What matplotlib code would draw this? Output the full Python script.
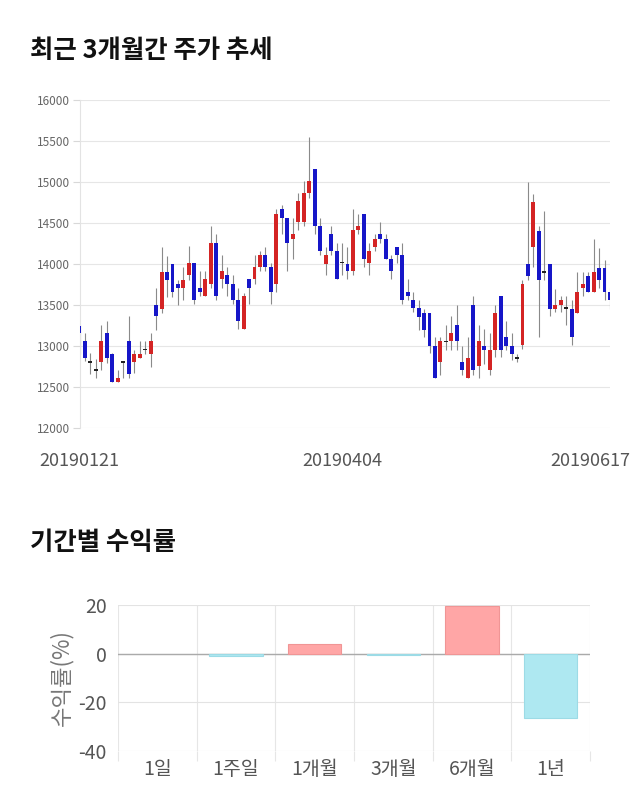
import matplotlib.pyplot as plt
from matplotlib.transforms import ScaledTranslation

plt.rcParams['font.family'] = ['Noto Sans CJK KR', 'DejaVu Sans']
plt.rcParams['axes.unicode_minus'] = False

# 일봉 데이터 (2019-01-21 ~ 2019-06-17)
opens = [13250, 13057, 12805, 12707, 12805, 13158, 12906, 12561, 12805, 13057,
         12805, 12854, 12955, 12906, 13504, 13455, 13906, 14004, 13756, 13707,
         13862, 14016, 13711, 13610, 13760, 14260, 13813, 13862, 13760, 13561,
         13203, 13813, 13813, 13963, 14106, 13963, 13760, 14667, 14565, 14309,
         14512, 14512, 14862, 15163, 14463, 14000, 14362, 14159, 14016, 14000,
         13915, 14410, 14614, 14016, 14207, 14362, 14309, 14065, 14207, 14106,
         13659, 13561, 13459, 13402, 13402, 13004, 12801, 13057, 13057, 13260,
         12801, 12610, 13504, 12752, 13004, 12703, 12955, 13606, 13106, 13004,
         12854, 13008, 14004, 14203, 14407, 13902, 14004, 13451, 13504, 13463,
         13451, 13402, 13707, 13858, 13654, 13955, 13955, 13654]
highs = [13260, 13160, 12915, 12846, 13260, 13309, 12910, 12707, 12810, 13362,
         12955, 13057, 13057, 13158, 13707, 14203, 14100, 14004, 13809, 13960,
         14220, 14016, 13915, 13915, 14463, 14362, 14106, 13963, 13862, 13711,
         13650, 13813, 14106, 14159, 14207, 14016, 14667, 14716, 14565, 14565,
         14870, 15012, 15550, 15163, 14565, 14207, 14463, 14260, 14260, 14207,
         14667, 14614, 14614, 14260, 14362, 14512, 14362, 14106, 14207, 14260,
         13813, 13659, 13565, 13451, 13402, 13106, 13106, 13260, 13362, 13504,
         13004, 13106, 13606, 13260, 13210, 13159, 13504, 13606, 13310, 13159,
         12903, 13810, 15000, 14858, 14460, 14650, 14004, 13700, 13610, 13610,
         13557, 13900, 13900, 13900, 14300, 14200, 14050, 13707]
lows = [12900, 12813, 12663, 12610, 12710, 12793, 12561, 12561, 12610, 12610,
        12670, 12854, 12900, 12750, 13200, 13402, 13600, 13600, 13500, 13560,
        13800, 13510, 13610, 13610, 13711, 13561, 13711, 13610, 13510, 13203,
        13203, 13510, 13760, 13915, 13915, 13510, 13659, 14362, 13915, 14060,
        14410, 14460, 14800, 14362, 14106, 13862, 14106, 13813, 13862, 13813,
        13862, 14362, 13963, 13862, 14159, 14260, 14060, 13813, 14016, 13510,
        13561, 13410, 13200, 13110, 12910, 12610, 12650, 12955, 12955, 12955,
        12650, 12610, 12650, 12610, 12780, 12650, 12860, 12860, 12955, 12830,
        12801, 12960, 13809, 13960, 13106, 13809, 13360, 13410, 13410, 13260,
        13008, 13402, 13610, 13654, 13654, 13707, 13557, 13451]
closes = [13160, 12854, 12805, 12707, 13057, 12854, 12561, 12610, 12805, 12663,
          12906, 12906, 12955, 13057, 13362, 13906, 13809, 13654, 13707, 13809,
          14010, 13561, 13659, 13813, 14260, 13610, 13915, 13760, 13561, 13305,
          13610, 13711, 13963, 14106, 13963, 13659, 14614, 14565, 14260, 14362,
          14768, 14870, 15012, 14463, 14159, 14106, 14159, 13813, 14016, 13915,
          14410, 14463, 14065, 14159, 14309, 14309, 14065, 13915, 14106, 13561,
          13610, 13459, 13358, 13199, 13004, 12610, 13057, 13057, 13159, 13057,
          12703, 12854, 12703, 13057, 12955, 12955, 13402, 12955, 13004, 12902,
          12854, 13756, 13850, 14756, 13809, 13902, 13451, 13504, 13557, 13463,
          13106, 13654, 13756, 13654, 13902, 13809, 13654, 13557]
date_ticks = [0, 48, 97]
date_labels = ['20190121', '20190404', '20190617']

# 기간별 수익률
periods = ['1일', '1주일', '1개월', '3개월', '6개월', '1년']
returns = [0.0, -0.8, 4.0, -0.4, 19.7, -26.4]

UP = '#d42424'
DOWN = '#1616c8'

fig = plt.figure(figsize=(6.4, 8.1), dpi=100)

fig.text(30 / 640, 1 - 50 / 810, '최근 3개월간 주가 추세', fontsize=18.3,
         fontweight='bold', va='center', ha='left', color='#111111')
fig.text(30 / 640, 1 - 543 / 810, '기간별 수익률', fontsize=18.3,
         fontweight='bold', va='center', ha='left', color='#111111')

# ---- 주가 캔들차트 ----
ax = fig.add_axes([79.5 / 640, 1 - 428 / 810, 530.5 / 640, 328 / 810])
xs = list(range(len(opens)))
ax.vlines(xs, lows, highs, color='#8a8a8a', linewidth=0.8, zorder=2)
for i in xs:
    o, c = opens[i], closes[i]
    if c > o:
        col = UP
    elif c < o:
        col = DOWN
    else:
        col = '#222222'
    h = max(abs(c - o), 14)
    b = min(o, c) if abs(c - o) >= 14 else o - 7
    ax.bar(i, h, bottom=b, width=0.72, color=col, linewidth=0, zorder=3)

ax.set_xlim(0, 97)
ax.set_ylim(12000, 16000)
ax.set_yticks(range(12000, 16001, 500))
ax.grid(axis='y', color='#e6e6e6', linewidth=0.8)
ax.set_axisbelow(True)
for s in ['top', 'right', 'bottom']:
    ax.spines[s].set_visible(False)
ax.spines['left'].set_color('#e3e3e3')
ax.tick_params(axis='y', length=5, color='#d8d8d8', labelsize=8.5,
               labelcolor='#666666', pad=2)
ax.set_xticks(date_ticks)
ax.set_xticklabels(date_labels)
ax.tick_params(axis='x', length=0, labelsize=13, labelcolor='#555555', pad=17)
last = ax.get_xticklabels()[-1]
last.set_transform(last.get_transform()
                   + ScaledTranslation(-0.20, 0, fig.dpi_scale_trans))

# ---- 기간별 수익률 막대 ----
ax2 = fig.add_axes([118 / 640, 1 - 751 / 810, 472 / 640, 146 / 810])
colors = ['#ffa6a6' if v > 0 else '#aee8f1' for v in returns]
edges = ['#f09595' if v > 0 else '#9cdbe6' for v in returns]
edges = [e if v != 0 else 'none' for e, v in zip(edges, returns)]
ax2.bar(range(len(periods)), returns, width=0.68, color=colors,
        edgecolor=edges, linewidth=0.8, zorder=3)
ax2.set_xlim(-0.5, len(periods) - 0.5)
ax2.set_ylim(-40, 20)
ax2.set_yticks([-40, -20, 0, 20])
ax2.grid(axis='y', color='#e3e3e3', linewidth=0.8)
ax2.axhline(0, color='#aaaaaa', linewidth=1.0, zorder=2)
for b in [i - 0.5 for i in range(len(periods) + 1)]:
    ax2.axvline(b, color='#e6e6e6', linewidth=0.8, zorder=1)
ax2.set_xticks([i - 0.5 for i in range(len(periods) + 1)])
ax2.set_xticklabels([])
ax2.tick_params(axis='x', which='major', length=7, color='#e6e6e6')
ax2.set_xticks(range(len(periods)), minor=True)
ax2.set_xticklabels(periods, minor=True)
ax2.tick_params(axis='x', which='minor', length=0, labelsize=14,
                labelcolor='#555555', pad=6)
ax2.tick_params(axis='y', length=0, labelsize=14, labelcolor='#555555', pad=8)
for s in ax2.spines.values():
    s.set_visible(False)
ax2.set_ylabel('수익률(%)', fontsize=16, color='#777777', labelpad=4)

fig.savefig('out.png', dpi=100)
